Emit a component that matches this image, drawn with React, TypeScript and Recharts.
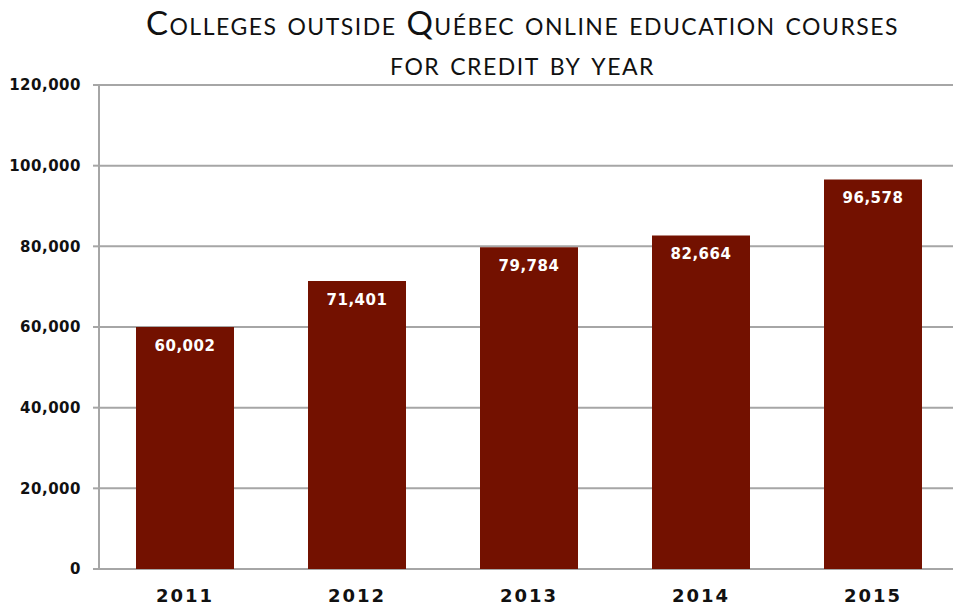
import { BarChart, Bar, XAxis, YAxis, CartesianGrid, LabelList } from 'recharts';

const years = ['2011', '2012', '2013', '2014', '2015'];
const courses = [60002, 71401, 79784, 82664, 96578];
const yTicks = [0, 20000, 40000, 60000, 80000, 100000, 120000];
const boundaryTicks = [0, 1, 2, 3, 4, 5];

const data = years.map((year, i) => ({ year, courses: courses[i], pos: i + 0.5 }));

const fmt = (v: number) => v.toLocaleString('en-US');

export default function App() {
  return (
    <div style={{ position: 'absolute', left: 0, top: 0, width: 953, height: 605, background: '#fff', overflow: 'hidden' }}>
      <div
        style={{
          position: 'absolute',
          left: 0,
          top: 2,
          width: 1045,
          textAlign: 'center',
          fontFamily: 'Lato, sans-serif',
          fontVariant: 'small-caps',
          fontSize: 33,
          lineHeight: '40px',
          color: '#111',
          letterSpacing: 1.5,
        }}
      >
        Colleges outside Québec online education courses
        <br />
        for credit by year
      </div>
      <BarChart
        width={953}
        height={605}
        data={data}
        margin={{ top: 85, right: -6, bottom: 0, left: 0 }}
        style={{ position: 'absolute', left: 0, top: 0 }}
      >
        <CartesianGrid vertical={false} stroke="#a6a6a6" strokeWidth={2} />
        <XAxis
          xAxisId="bounds"
          type="number"
          dataKey="pos"
          domain={[0, 5]}
          ticks={boundaryTicks}
          tick={false}
          tickSize={8}
          height={0}
          axisLine={{ stroke: '#a6a6a6', strokeWidth: 2 }}
          tickLine={{ stroke: '#a6a6a6', strokeWidth: 2 }}
        />
        <XAxis
          dataKey="year"
          axisLine={false}
          tickLine={false}
          height={36}
          tick={{ fill: '#111', fontSize: 18, fontWeight: 'bold', fontFamily: 'DejaVu Sans, sans-serif', letterSpacing: 2 }}
          tickMargin={14}
        />
        <YAxis
          domain={[0, 120000]}
          ticks={yTicks}
          width={99}
          tickFormatter={fmt}
          axisLine={{ stroke: '#a6a6a6', strokeWidth: 2 }}
          tickLine={{ stroke: '#a6a6a6', strokeWidth: 2 }}
          tickSize={6}
          tickMargin={12}
          tick={{ fill: '#111', fontSize: 15, fontWeight: 'bold', fontFamily: 'DejaVu Sans, sans-serif', letterSpacing: 0.5 }}
        />
        <Bar dataKey="courses" fill="#731100" barSize={98} isAnimationActive={false}>
          <LabelList
            dataKey="courses"
            position="insideTop"
            offset={13}
            formatter={(v: number) => fmt(v)}
            style={{ fill: '#fff', fontSize: 15, fontWeight: 'bold', fontFamily: 'DejaVu Sans, sans-serif', letterSpacing: 0.5 }}
          />
        </Bar>
      </BarChart>
    </div>
  );
}
